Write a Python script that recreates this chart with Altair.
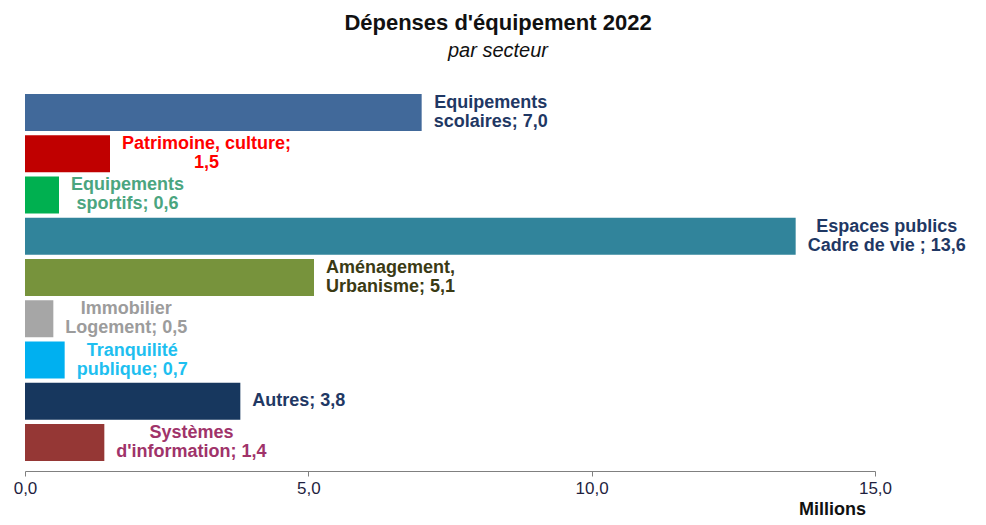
import altair as alt
import pandas as pd

categories = [
    "Equipements scolaires", "Patrimoine, culture", "Equipements sportifs",
    "Espaces publics Cadre de vie", "Aménagement, Urbanisme", "Immobilier Logement",
    "Tranquilité publique", "Autres", "Systèmes d'information",
]
values = [7.0, 1.5, 0.6, 13.6, 5.1, 0.5, 0.7, 3.8, 1.4]
label_names = [
    "Equipements\nscolaires;", "Patrimoine, culture;\n", "Equipements\nsportifs;",
    "Espaces publics\nCadre de vie ;", "Aménagement,\nUrbanisme;", "Immobilier\nLogement;",
    "Tranquilité\npublique;", "Autres;", "Systèmes\nd'information;",
]
bar_colors = ["#41699A", "#C00000", "#00B050", "#31849B", "#77933C",
              "#A6A6A6", "#00B0F0", "#17375E", "#953735"]
label_colors = ["#1F3864", "#FF0000", "#4BA57F", "#1F3864", "#3A3A14",
                "#9C9C9C", "#1EBFF0", "#1F3864", "#A0336A"]
x_ticks = [0, 5, 10, 15]

FONT = "Liberation Sans"
LABEL_SIZE = 18
LINE_H = 19
PLOT_W, PLOT_H = 850, 387
X_MAX = 15

# Arial-bold advance widths (per 1000 em) to centre multi-line labels
W = {" ": 278, "'": 238, ",": 278, ";": 333, ".": 278,
     "A": 722, "C": 722, "E": 667, "I": 278, "L": 611, "P": 667, "S": 667,
     "T": 611, "U": 722, "a": 556, "b": 611, "c": 556, "d": 611, "e": 556,
     "è": 556, "é": 556, "f": 333, "g": 611, "h": 611, "i": 278, "l": 278,
     "m": 889, "n": 611, "o": 611, "p": 611, "q": 611, "r": 389, "s": 556,
     "t": 333, "u": 611, "v": 556, "y": 556}
for d in "0123456789":
    W[d] = 556


def text_w(s):
    return sum(W.get(c, 600) for c in s) / 1000 * LABEL_SIZE


def fmt(v):
    return f"{v:.1f}".replace(".", ",")


labels = [n + ("" if n.endswith("\n") else " ") + fmt(v) for n, v in zip(label_names, values)]
px_per_unit = PLOT_W / X_MAX
label_x = [v + (12 + max(text_w(l) for l in lab.split("\n")) / 2) / px_per_unit
           for v, lab in zip(values, labels)]
n_lines = [lab.count("\n") + 1 for lab in labels]

df = pd.DataFrame({"cat": categories, "value": values, "label": labels,
                   "lx": label_x, "nlines": n_lines})

y_enc = alt.Y("cat:N", sort=categories, axis=None,
              scale=alt.Scale(paddingInner=0.1, paddingOuter=0.24))

bars = alt.Chart(df).mark_bar().encode(
    x=alt.X("value:Q", scale=alt.Scale(domain=[0, X_MAX], nice=False),
            axis=alt.Axis(values=x_ticks,
                          labelExpr="replace(format(datum.value, '.1f'), '.', ',')",
                          grid=False, domainColor="#808080", tickColor="#808080",
                          tickSize=5, labelFontSize=17, labelColor="#1F1F3F",
                          labelFont=FONT, labelPadding=4, labelFlush=False,
                          title="Millions", titleX=807, titleY=43,
                          titleBaseline="alphabetic", titleAlign="center",
                          titleFont=FONT, titleFontSize=18, titleFontWeight="bold",
                          titleColor="#111111")),
    y=y_enc,
    color=alt.Color("cat:N", scale=alt.Scale(domain=categories, range=bar_colors), legend=None),
)


def text_layer(nl):
    return alt.Chart(df).transform_filter(alt.datum.nlines == nl).mark_text(
        font=FONT, fontSize=LABEL_SIZE, fontWeight="bold", align="center",
        baseline="middle", lineBreak="\n", lineHeight=LINE_H,
        dy=-(nl - 1) * LINE_H / 2,
    ).encode(
        x=alt.X("lx:Q"),
        y=y_enc,
        text="label:N",
        color=alt.Color("cat:N", scale=alt.Scale(domain=categories, range=label_colors),
                        legend=None),
    )


chart = alt.layer(bars, text_layer(1), text_layer(2)).resolve_scale(
    color="independent"
).properties(
    width=PLOT_W, height=PLOT_H,
    autosize=alt.AutoSizeParams(type="none"),
    padding={"left": 17, "top": 76, "right": 100, "bottom": 46},
    title=alt.TitleParams(
        text="Dépenses  d'équipement 2022", subtitle="par secteur",
        font=FONT, fontSize=22, fontWeight="bold", color="#111111",
        subtitleFont=FONT, subtitleFontSize=20, subtitleFontStyle="italic",
        subtitleColor="#111111", subtitlePadding=6,
        anchor="middle", dx=48, offset=22,
    ),
).configure_view(stroke=None)

chart.save("out.html", embed_options={"renderer": "svg", "actions": False})
